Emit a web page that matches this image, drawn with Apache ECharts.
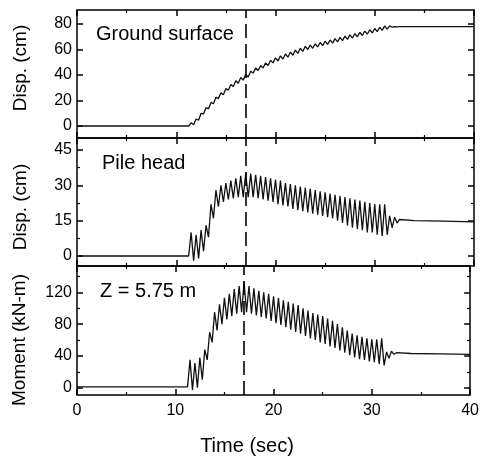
<!DOCTYPE html>
<html><head><meta charset="utf-8">
<script src="https://cdn.jsdelivr.net/npm/echarts@6/dist/echarts.min.js"></script>
<style>html,body{margin:0;padding:0;background:#fff}#c{width:482px;height:458px}</style>
</head><body><div id="c"></div>
<script>
// Time (sec)
const time = [0, 5, 10, 11.0,
 11.25, 11.5, 11.75, 12.0, 12.25, 12.5, 12.75, 13.0, 13.25, 13.5, 13.75, 14.0, 14.25, 14.5, 14.75, 15.0,
 15.25, 15.5, 15.75, 16.0, 16.25, 16.5, 16.75, 17.0, 17.25, 17.5, 17.75, 18.0, 18.25, 18.5, 18.75, 19.0,
 19.25, 19.5, 19.75, 20.0, 20.25, 20.5, 20.75, 21.0, 21.25, 21.5, 21.75, 22.0, 22.25, 22.5, 22.75, 23.0,
 23.25, 23.5, 23.75, 24.0, 24.25, 24.5, 24.75, 25.0, 25.25, 25.5, 25.75, 26.0, 26.25, 26.5, 26.75, 27.0,
 27.25, 27.5, 27.75, 28.0, 28.25, 28.5, 28.75, 29.0, 29.25, 29.5, 29.75, 30.0, 30.25, 30.5, 30.75, 31.0,
 31.25, 31.5,
 31.75, 32.0, 32.25, 32.5, 34, 37, 40];
// Ground surface displacement (cm)
const groundDisp = [0, 0, 0, 0,
 0, 2.5, 1, 5.5, 4.5, 10, 9.5, 14.5, 13.5, 18.5,
 17.5, 22.5, 21.5, 26, 24.5, 29.5, 28, 32.5, 31, 35.5,
 33.5, 38, 36, 40.5, 38.5, 43, 41.5, 45.5, 43.5, 47.5,
 45.5, 49.5, 47.5, 51.5, 49.5, 53.5, 51, 55, 52.5, 56.5,
 54, 58, 55.5, 59.5, 57, 61, 58.5, 62.5, 60, 63.5,
 61, 64.5, 62, 65.5, 63, 66.5, 64, 67.5, 65, 68.5,
 66, 69.5, 67, 70.5, 68, 71.5, 69, 72.5, 70, 73.5,
 71, 74.5, 72, 75.5, 73, 76.5, 74, 77.5, 75, 78.5,
 76, 78.5,
 77.5, 78, 77.8, 78, 78, 78, 78];
// Pile head displacement (cm)
const pileDisp = [0, 0, 0, 0,
 0, 10, -2, 9, -1, 11, 2, 13, 8, 22,
 16, 28, 21, 30, 23, 31, 24, 32, 24.5, 33,
 25, 34, 25, 35, 25, 35, 25, 34.5, 24.5, 34,
 24, 33.5, 23.5, 33, 23, 32.5, 22, 32, 21.5, 31,
 21, 30.5, 20, 30, 19.5, 29.5, 19, 29, 18.5, 28.5,
 18, 28, 17.5, 27.5, 17, 27, 16.5, 26.5, 16, 26,
 15, 25.5, 14, 25, 13, 24.5, 12, 24, 11.5, 23.5,
 11, 23, 10, 22.5, 10, 22, 9, 22, 8.5, 22,
 9, 17,
 12, 16.5, 14, 15.5, 15, 14.8, 14.5];
// Moment at Z = 5.75 m (kN-m)
const moment = [1, 1, 1, 1,
 1, 35, -3, 31, 0, 38, 10, 48, 35, 70,
 57, 95, 72, 105, 80, 113, 86, 118, 90, 124,
 93, 128, 95, 133, 95, 128, 93, 125, 91, 122,
 89, 120, 87, 118, 84, 115, 81, 113, 79, 110,
 76, 108, 73, 106, 70, 104, 68, 100, 65, 97,
 62, 94, 60, 92, 57, 90, 55, 87, 52, 84,
 50, 80, 47, 76, 44, 72, 41, 68, 38, 66,
 36, 64, 35, 62, 33, 61, 32, 61, 30, 62,
 28, 45,
 37, 46, 42, 44, 43, 42.5, 42];
const xTicks = [0, 10, 20, 30, 40];
const markTime = 17;
const panelLabels = ['Ground surface', 'Pile head', 'Z = 5.75 m'];
const yNames = ['Disp. (cm)', 'Disp. (cm)', 'Moment (kN-m)'];
const yLabels = [[0, 20, 40, 60, 80], [0, 15, 30, 45], [0, 40, 80, 120]];
const yMinorTicks = [[], [7.5, 22.5, 37.5], [20, 60, 100, 140]];

const FONT = '"Liberation Sans", Arial, Helvetica, sans-serif';
const ranges = [[-9.4, 91.0], [-4.25, 50.1], [-9.2, 153.1]];
const grids = [
  {left: 77, right: 8, top: 10, height: 128},
  {left: 77, right: 8, top: 138, height: 128},
  {left: 77, right: 8, top: 266, height: 129}
];
const series = [groundDisp, pileDisp, moment];

const xAxis = [], yAxis = [], ser = [];
const lineBlack = {color: '#000', width: 1.5};
grids.forEach((g, gi) => {
  ['bottom', 'top'].forEach(pos => {
    xAxis.push({
      gridIndex: gi, type: 'value', min: 0, max: 40, interval: 10, position: pos,
      axisLine: {show: true, onZero: false, lineStyle: lineBlack},
      axisTick: {show: true, inside: true, length: 6, lineStyle: lineBlack},
      minorTick: {show: true, splitNumber: 2, length: 3, lineStyle: {color: '#000', width: 1.2}},
      axisLabel: {show: gi === 2 && pos === 'bottom', margin: 8, fontSize: 16, color: '#000', fontFamily: FONT},
      splitLine: {show: false}
    });
  });
  const [mn, mx] = ranges[gi];
  const base = yAxis.length;
  ['left', 'right'].forEach(pos => {
    yAxis.push({
      gridIndex: gi, type: 'value', min: mn, max: mx, position: pos,
      axisLine: {show: true, onZero: false, lineStyle: lineBlack},
      axisTick: {show: true, inside: true, length: 6, customValues: yLabels[gi], lineStyle: lineBlack},
      axisLabel: {show: pos === 'left', customValues: yLabels[gi], margin: 5, fontSize: 16, color: '#000', fontFamily: FONT},
      splitLine: {show: false}
    });
  });
  if (yMinorTicks[gi].length) {
    ['left', 'right'].forEach(pos => {
      yAxis.push({
        gridIndex: gi, type: 'value', min: mn, max: mx, position: pos,
        axisLine: {show: false, onZero: false},
        axisTick: {show: true, inside: true, length: 3, customValues: yMinorTicks[gi].filter(v => v < mx), lineStyle: {color: '#000', width: 1.2}},
        axisLabel: {show: false},
        splitLine: {show: false}
      });
    });
  }
  ser.push({
    type: 'line', xAxisIndex: gi * 2, yAxisIndex: base,
    data: time.map((t, i) => [t, series[gi][i]]),
    symbol: 'none', lineStyle: {color: '#111', width: 1.3}, silent: true,
    markLine: {
      silent: true, symbol: 'none', label: {show: false},
      lineStyle: {color: '#000', width: 1.6, type: [14, 6]},
      data: [{xAxis: markTime}]
    }
  });
});

const graphic = [];
const labelPos = [[96, 34], [102, 163], [100, 291.5]];
panelLabels.forEach((t, i) => graphic.push({
  type: 'text', x: labelPos[i][0], y: labelPos[i][1],
  style: {text: t, font: '20px ' + FONT, fill: '#000', textAlign: 'left', textVerticalAlign: 'middle'}
}));
const namePos = [[21, 68], [21, 207], [20, 340]];
yNames.forEach((t, i) => graphic.push({
  type: 'text', x: namePos[i][0], y: namePos[i][1], rotation: Math.PI / 2,
  style: {text: t, font: '19px ' + FONT, fill: '#000', textAlign: 'center', textVerticalAlign: 'middle'}
}));
graphic.push({
  type: 'text', x: 247, y: 446,
  style: {text: 'Time (sec)', font: '20px ' + FONT, fill: '#000', textAlign: 'center', textVerticalAlign: 'middle'}
});

const chart = echarts.init(document.getElementById('c'), null, {renderer: 'canvas'});
chart.setOption({
  animation: false,
  backgroundColor: '#fff',
  grid: grids,
  xAxis, yAxis, series: ser, graphic
});
</script></body></html>
